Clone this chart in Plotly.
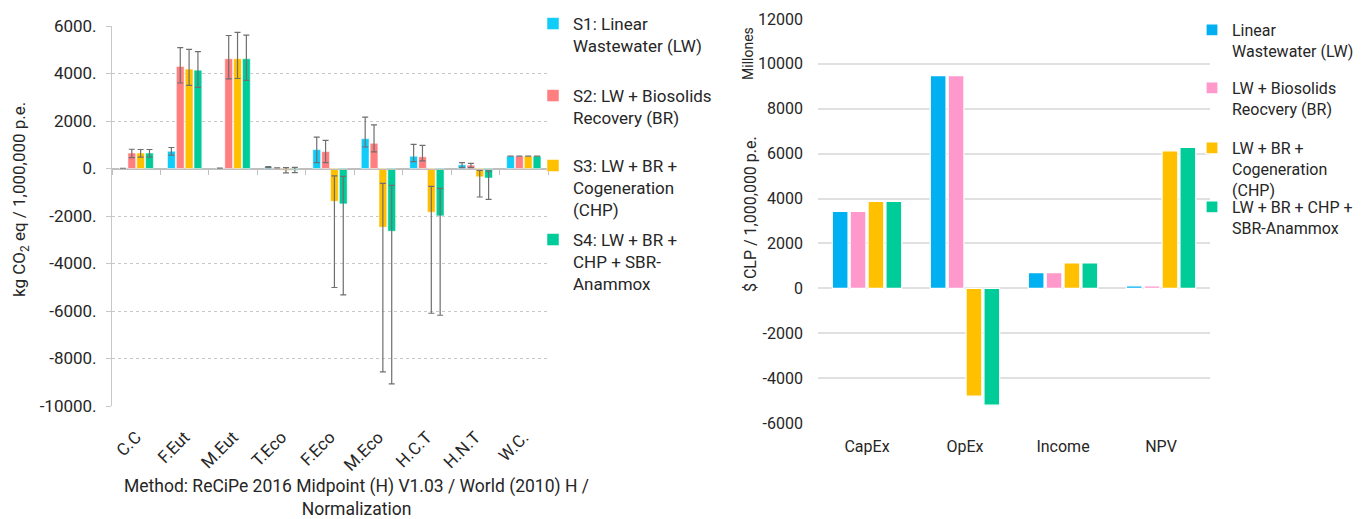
import plotly.graph_objects as go

# ---------------- data: left chart (LCA normalization) ----------------
lca_categories = ["C.C", "F.Eut", "M.Eut", "T.Eco", "F.Eco", "M.Eco", "H.C.T", "H.N.T", "W.C."]
lca_names = ["S1: Linear<br>Wastewater (LW)",
             "S2: LW + Biosolids<br>Recovery (BR)",
             "S3: LW + BR +<br>Cogeneration<br>(CHP)",
             "S4: LW + BR +<br>CHP + SBR-<br>Anammox"]
s1_vals = [10, 725, 15, 55, 795, 1255, 515, 155, 520]
s1_err_plus = [None, 160, None, 20, 530, 905, 505, 95, None]
s1_err_minus = [None, 165, None, 20, 545, 350, 225, 115, None]
s2_vals = [650, 4300, 4620, 25, 710, 1060, 490, 140, 520]
s2_err_plus = [160, 790, 980, None, 475, 780, 485, 80, None]
s2_err_minus = [190, 700, 850, None, 460, 360, 170, 100, None]
s3_vals = [650, 4185, 4620, -80, -1380, -2470, -1840, -350, 520]
s3_err_plus = [150, 835, 1110, 120, 1073, 1840, 1090, 265, None]
s3_err_minus = [170, 685, 830, 100, 3630, 6095, 4255, 850, None]
s4_vals = [650, 4140, 4620, -70, -1490, -2640, -1995, -400, 520]
s4_err_plus = [150, 780, 1000, 120, 1155, 1930, 1155, 290, None]
s4_err_minus = [170, 720, 910, 100, 3830, 6430, 4185, 900, None]
lca_tickvals = [6000, 4000, 2000, 0, -2000, -4000, -6000, -8000, -10000]
lca_ticktext = ["6000.", "4000.", "2000.", "0.", "-2000.", "-4000.", "-6000.", "-8000.", "-10000."]

# ---------------- data: right chart (economics) ----------------
eco_categories = ["CapEx", "OpEx", "Income", "NPV"]
eco_names = ["Linear<br>Wastewater (LW)",
             "LW + Biosolids<br>Reocvery (BR)",
             "LW + BR +<br>Cogeneration<br>(CHP)",
             "LW + BR + CHP +<br>SBR-Anammox"]
r1_vals = [3425, 9480, 700, 110]
r2_vals = [3425, 9480, 700, 110]
r3_vals = [3870, -4805, 1130, 6125]
r4_vals = [3870, -5205, 1130, 6275]
eco_tickvals = [12000, 10000, 8000, 6000, 4000, 2000, 0, -2000, -4000, -6000]
eco_ticktext = ["12000", "10000", "8000", "6000", "4000", "2000", "0", "-2000", "-4000", "-6000"]

# ---------------- styles ----------------
W, H = 1362, 519
PAGE_OFF = 8  # browser default body margin
lca_colors = ["#10CCF8", "#FF7F80", "#FFC000", "#00CC99"]
eco_colors = ["#00B0F0", "#FF99CC", "#FFC000", "#00CC99"]
FL = "Roboto"
FR = "Roboto"
TXT = "#262626"

def px_x(p):
    return (p - PAGE_OFF) / W

def px_y(p):
    return 1 - (p - PAGE_OFF) / H

# plot areas (pixel positions in the screenshot)
L_x0, L_x1, L_ytop, L_ybot = 112, 548, 26, 406
R_x0, R_x1, R_ytop, R_ybot = 818, 1210, 19, 423

fig = go.Figure()

lca_series = [(s1_vals, s1_err_plus, s1_err_minus),
              (s2_vals, s2_err_plus, s2_err_minus),
              (s3_vals, s3_err_plus, s3_err_minus),
              (s4_vals, s4_err_plus, s4_err_minus)]
for i, (vals, ep, em) in enumerate(lca_series):
    fig.add_trace(go.Bar(
        x=lca_categories, y=vals, name=lca_names[i],
        marker=dict(color=lca_colors[i], line=dict(color="white", width=0.5)),
        error_y=dict(type="data", symmetric=False, array=ep, arrayminus=em,
                     color="#6f6f6f", thickness=1.2, width=3),
        xaxis="x", yaxis="y",
        legend="legend" if i == 0 else f"legend{i + 1}",
    ))

eco_series = [r1_vals, r2_vals, r3_vals, r4_vals]
for i, vals in enumerate(eco_series):
    fig.add_trace(go.Bar(
        x=eco_categories, y=vals, name=eco_names[i],
        marker=dict(color=eco_colors[i], line=dict(color="white", width=1.2)),
        xaxis="x2", yaxis="y2",
        legend=f"legend{i + 5}",
    ))

# dummy trace to carry the zero-line axis with boundary ticks
fig.add_trace(go.Scatter(x=lca_categories, y=[None] * len(lca_categories),
                         xaxis="x3", yaxis="y", showlegend=False,
                         hoverinfo="skip", mode="markers"))

yl0, yl1 = px_y(L_ybot), px_y(L_ytop)
lca_range = [-10000, 6000]
zero_pos = yl0 + (yl1 - yl0) * (0 - lca_range[0]) / (lca_range[1] - lca_range[0])

layout = dict(
    width=W, height=H,
    margin=dict(l=0, r=0, t=0, b=0, autoexpand=False),
    paper_bgcolor="white", plot_bgcolor="white",
    barmode="group", bargap=0.27, bargroupgap=0.12,
    font=dict(family=FL, color=TXT, size=17),
    xaxis=dict(domain=[px_x(L_x0), px_x(L_x1)], anchor="y", type="category",
               tickangle=-45, tickfont=dict(family=FL, size=17, color=TXT),
               showline=False, showgrid=False, zeroline=False, ticks="",
               ticklabelstandoff=17),
    yaxis=dict(domain=[yl0, yl1], anchor="x", range=lca_range,
               tickvals=lca_tickvals, ticktext=lca_ticktext,
               tickfont=dict(family=FL, size=17, color=TXT),
               showgrid=True, gridcolor="#c8c8c8", griddash="dot", gridwidth=1,
               zeroline=True, zerolinecolor="#bfbfbf", zerolinewidth=1,
               showline=True, linecolor="#c8c8c8", linewidth=1,
               ticks="outside", ticklen=5, tickcolor="#c8c8c8", ticklabelstandoff=6),
    xaxis3=dict(overlaying="x", anchor="free", position=zero_pos, type="category",
                categoryarray=lca_categories, categoryorder="array",
                range=[-0.5, len(lca_categories) - 0.5],
                tickson="boundaries", ticks="outside", ticklen=5, tickcolor="#bfbfbf",
                showticklabels=False, showline=True, linecolor="#bfbfbf",
                showgrid=False, zeroline=False, side="bottom"),
    xaxis2=dict(domain=[px_x(R_x0), px_x(R_x1)], anchor="y2", type="category",
                tickfont=dict(family=FR, size=16, color=TXT),
                showline=False, showgrid=False, zeroline=False, ticks="",
                ticklabelstandoff=12),
    yaxis2=dict(domain=[px_y(R_ybot), px_y(R_ytop)], anchor="x2", range=[-6000, 12000],
                tickvals=eco_tickvals, ticktext=eco_ticktext,
                tickfont=dict(family=FR, size=16, color=TXT),
                showgrid=True, gridcolor="#e0e0e0", gridwidth=2,
                zeroline=True, zerolinecolor="#e0e0e0", zerolinewidth=2,
                showline=False, ticks="", ticklabelstandoff=14),
)

# legends: one per series so each entry sits at its own position
lca_legend_lines = [24, 96, 166, 240]
for i in range(4):
    key = "legend" if i == 0 else f"legend{i + 1}"
    layout[key] = dict(x=px_x(533), y=px_y(lca_legend_lines[i] - 18), xanchor="left", yanchor="top",
                       font=dict(family=FL, size=17, color=TXT), valign="top",
                       bgcolor="rgba(0,0,0,0)", borderwidth=0)
eco_legend_lines = [30, 88, 148, 207]
for i in range(4):
    layout[f"legend{i + 5}"] = dict(x=px_x(1192), y=px_y(eco_legend_lines[i] - 17), xanchor="left",
                                    yanchor="top", font=dict(family=FR, size=16, color=TXT),
                                    valign="top", bgcolor="rgba(0,0,0,0)", borderwidth=0)

fig.update_layout(**layout)

ann = dict(showarrow=False, xref="paper", yref="paper", xanchor="center", yanchor="middle")
annotations = [
    dict(text="kg CO<sub>2</sub> eq / 1,000,000 p.e.", x=px_x(20), y=px_y(200), textangle=-90,
         font=dict(family=FL, size=17, color=TXT), **ann),
    dict(text="Method: ReCiPe 2016 Midpoint (H) V1.03 / World (2010) H /<br>Normalization",
         x=px_x(356), y=px_y(497), font=dict(family=FL, size=17.5, color=TXT), **ann),
    dict(text="$ CLP / 1,000,000 p.e.", x=px_x(750), y=px_y(214), textangle=-90,
         font=dict(family=FR, size=16, color=TXT), **ann),
    dict(text="Millones", x=px_x(748), y=px_y(54), textangle=-90,
         font=dict(family=FR, size=14, color=TXT), **ann),
]
fig.update_layout(annotations=annotations)

fig.write_html("out.html")
